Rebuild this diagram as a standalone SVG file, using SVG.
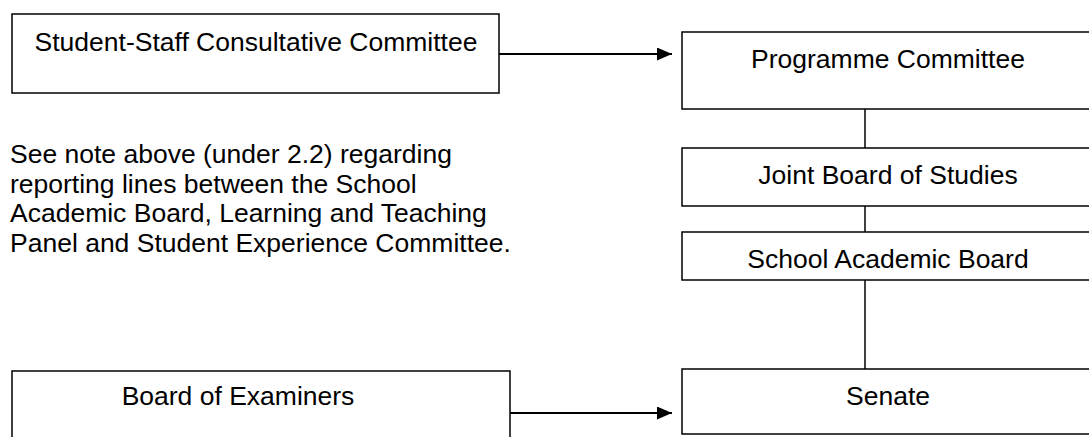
<svg xmlns="http://www.w3.org/2000/svg" width="1089" height="437" viewBox="0 0 1089 437">
<style>
.box{fill:#fff;stroke:#000;stroke-width:1.5}
.t{font-family:"Liberation Sans",Arial,sans-serif;font-size:26.5px;fill:#000}
.c{text-anchor:middle}
.ln{stroke:#000;stroke-width:1.5;fill:none}
.ar{stroke:#000;stroke-width:2;fill:none}
</style>
<defs>
<marker id="ah" markerWidth="15" markerHeight="13" refX="15" refY="6.5" orient="auto" markerUnits="userSpaceOnUse">
<path d="M0,0 L15,6.5 L0,13 Z" fill="#000"/>
</marker>
</defs>
<rect width="1089" height="437" fill="#fff"/>
<g id="connectors">
<line class="ar" x1="499" y1="54" x2="672" y2="54" marker-end="url(#ah)"/>
<line class="ar" x1="506" y1="413" x2="672" y2="413" marker-end="url(#ah)"/>
<line class="ln" x1="865" y1="109" x2="865" y2="148"/>
<line class="ln" x1="865" y1="206" x2="865" y2="232"/>
<line class="ln" x1="865" y1="280" x2="865" y2="369"/>
</g>
<g id="sscc">
<rect class="box" x="12" y="14" width="487" height="79"/>
<text class="t c" x="256" y="51">Student-Staff Consultative Committee</text>
</g>
<g id="programme">
<rect class="box" x="682" y="32" width="410" height="77"/>
<text class="t c" x="888" y="68">Programme Committee</text>
</g>
<g id="jbs">
<rect class="box" x="682" y="148" width="410" height="58"/>
<text class="t c" x="888" y="184">Joint Board of Studies</text>
</g>
<g id="sab">
<rect class="box" x="682" y="232" width="410" height="48"/>
<text class="t c" x="888" y="268">School Academic Board</text>
</g>
<g id="senate">
<rect class="box" x="682" y="369" width="410" height="65"/>
<text class="t c" x="888" y="405">Senate</text>
</g>
<g id="boe">
<rect class="box" x="12" y="371" width="498" height="80"/>
<text class="t c" x="238" y="405">Board of Examiners</text>
</g>
<g id="note">
<text class="t" x="10" y="163">See note above (under 2.2) regarding</text>
<text class="t" x="10" y="192.5">reporting lines between the School</text>
<text class="t" x="10" y="222">Academic Board, Learning and Teaching</text>
<text class="t" x="10" y="251.5">Panel and Student Experience Committee.</text>
</g>
</svg>
